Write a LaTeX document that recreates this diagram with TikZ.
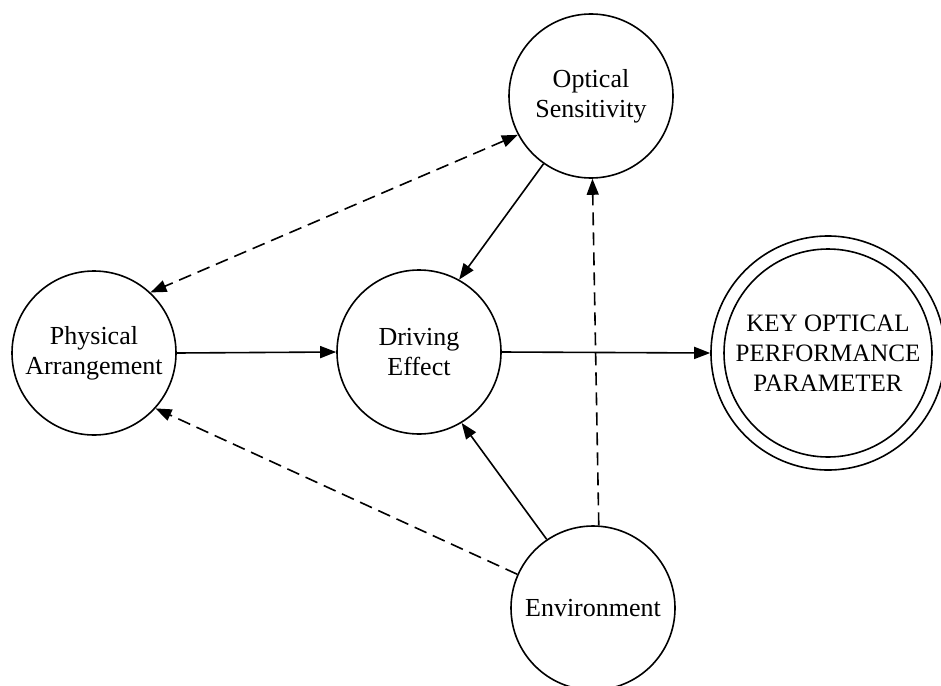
\documentclass[tikz,border=0pt]{standalone}
\usepackage{fontspec}
\setmainfont{Liberation Serif}
\usetikzlibrary{arrows.meta}
\tikzset{
  bubble/.style={circle, draw, line width=1.6pt, minimum size=164pt, inner sep=0pt, align=center, font=\fontsize{26}{30}\selectfont},
  conn/.style={line width=1.6pt, -{Triangle[length=16pt,width=12pt]}},
  dconn/.style={conn, dash pattern=on 13pt off 7pt},
}
\begin{document}
\begin{tikzpicture}[x=1pt,y=-1pt]
\useasboundingbox (0,0) rectangle (941,685);
\node[bubble] (P) at (94,353) {Physical\\Arrangement};
\node[bubble] (D) at (419,352) {Driving\\Effect};
\node[bubble] (O) at (591,96) {Optical\\Sensitivity};
\node[bubble] (E) at (593,608) {Environment};
\node[circle, draw, line width=1.6pt, minimum size=234pt, inner sep=0pt] (K) at (828,353) {};
\node[bubble, minimum size=208pt, font=\fontsize{25}{30}\selectfont] (Kin) at (828,353) {KEY OPTICAL\\PERFORMANCE\\PARAMETER};
% solid connectors
\draw[conn] (P.east) -- (D.west);
\draw[conn] (D.east) -- (K.west);
\draw[conn] (O.235.5) -- (D.61);
\draw[conn] (E.124) -- (D.-59.5);
% dashed connectors
\draw[dconn] (E.86) -- (O.271.4);
\draw[dconn] (E.156.5) -- (P.-42.6);
\draw[dconn, {Triangle[length=16pt,width=12pt]}-{Triangle[length=16pt,width=12pt]}] (O.208.3) -- (P.47.4);
\end{tikzpicture}
\end{document}
